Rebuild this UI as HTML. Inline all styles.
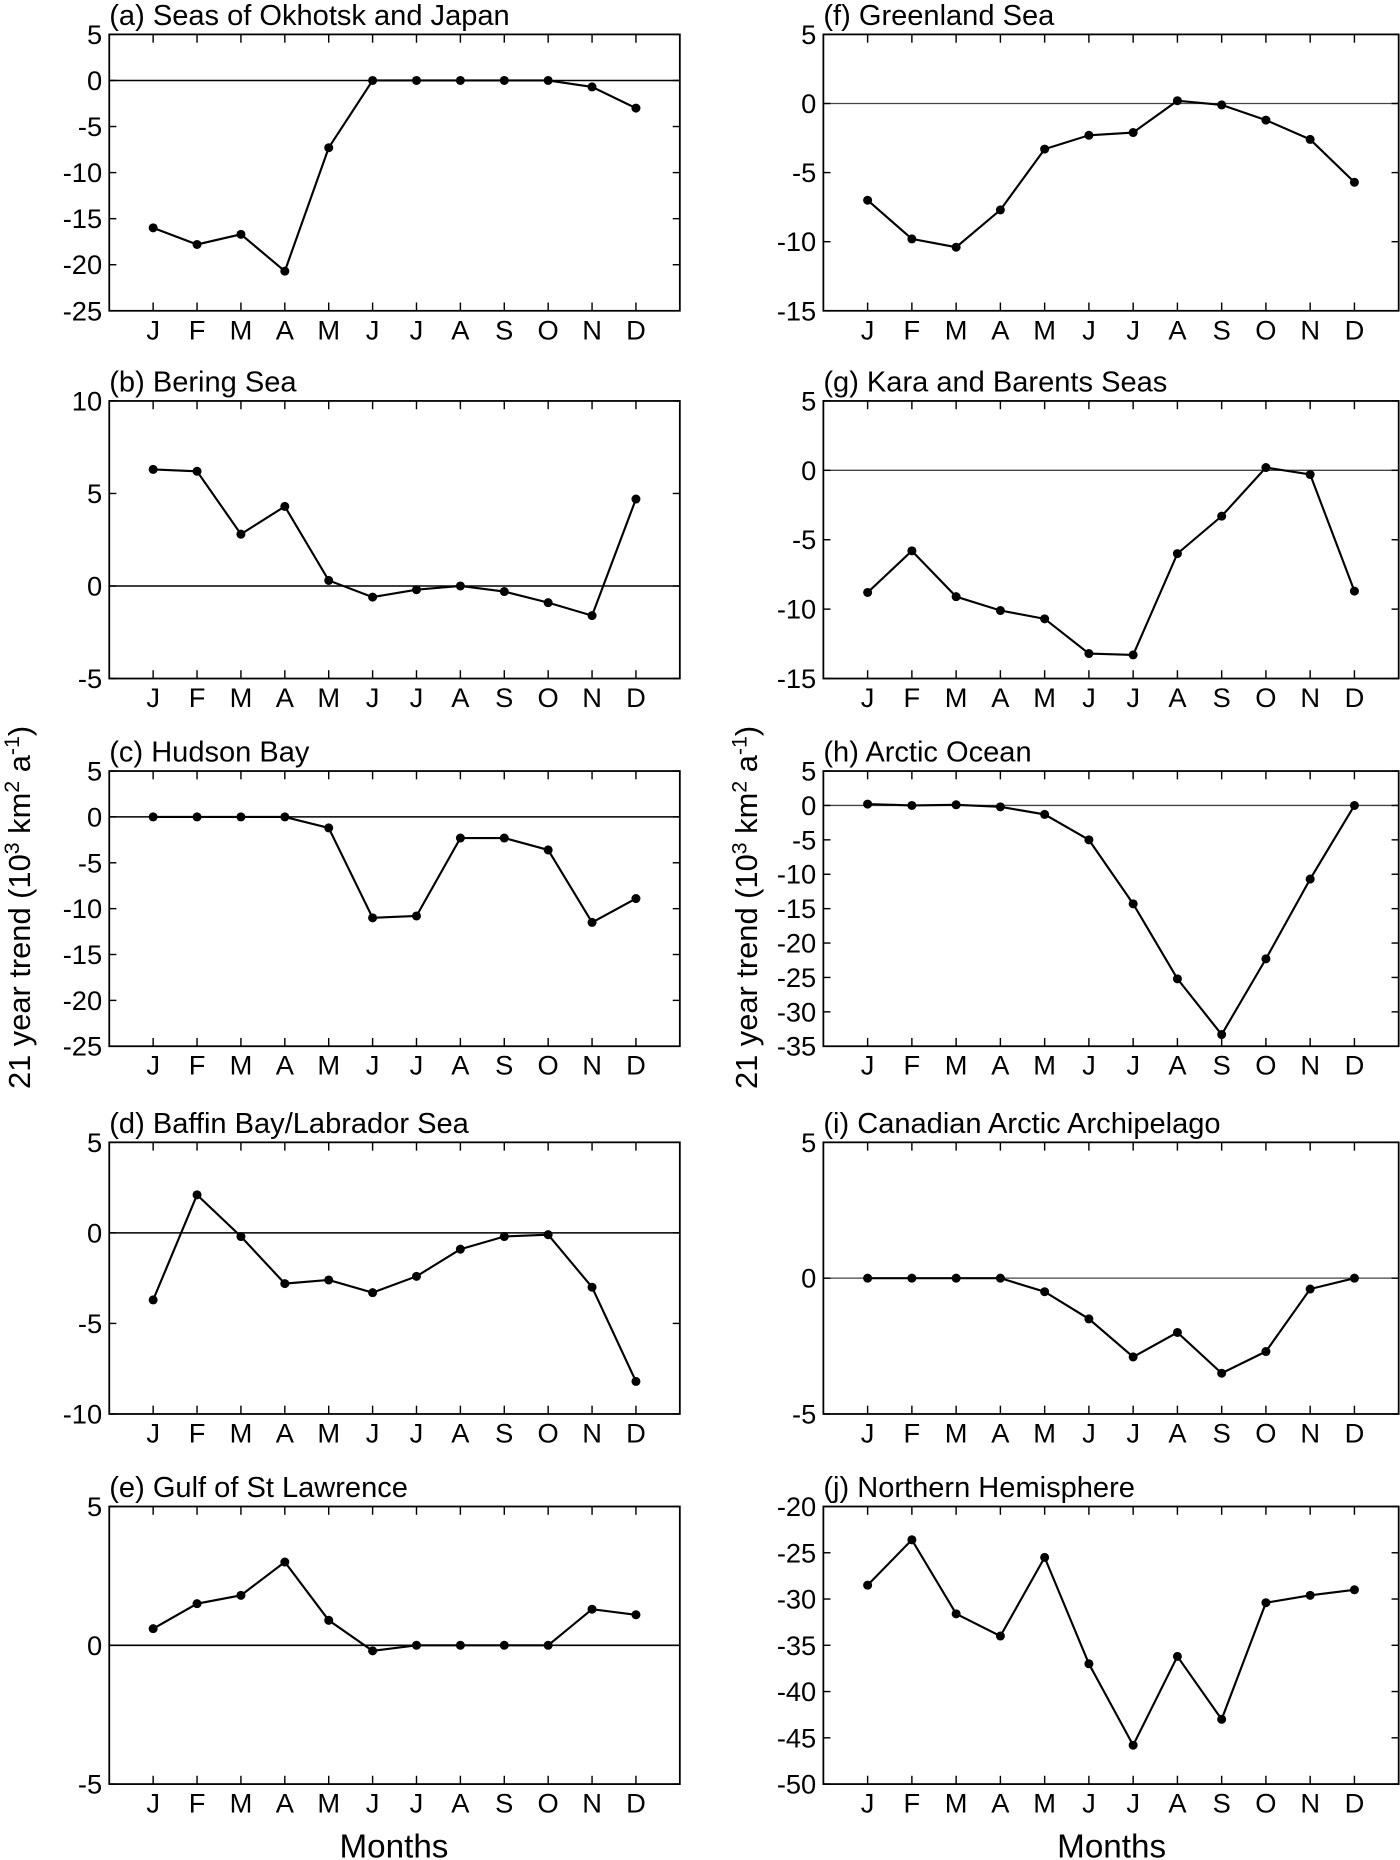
<!DOCTYPE html>
<html><head><meta charset="utf-8"><style>
html,body{margin:0;padding:0;background:#fff}
svg{display:block}
text{font-family:"Liberation Sans",Arial,sans-serif;fill:#000}
</style></head><body>
<svg id="fig" width="1400" height="1860" viewBox="0 0 1180 1568" xmlns="http://www.w3.org/2000/svg">
<text transform="translate(25,765) rotate(-90)" text-anchor="middle" font-size="26">21 year trend (10<tspan dy="-9" font-size="18">3</tspan><tspan dy="9"> km</tspan><tspan dy="-9" font-size="18">2</tspan><tspan dy="9"> a</tspan><tspan dy="-9" font-size="18">-1</tspan><tspan dy="9">)</tspan></text>
<text transform="translate(638,765) rotate(-90)" text-anchor="middle" font-size="26">21 year trend (10<tspan dy="-9" font-size="18">3</tspan><tspan dy="9"> km</tspan><tspan dy="-9" font-size="18">2</tspan><tspan dy="9"> a</tspan><tspan dy="-9" font-size="18">-1</tspan><tspan dy="9">)</tspan></text>
<text x="332" y="1566" text-anchor="middle" font-size="28">Months</text>
<text x="937" y="1566" text-anchor="middle" font-size="28">Months</text>
</svg>
<script>
const months = ["J","F","M","A","M","J","J","A","S","O","N","D"];
const titles = ["(a) Seas of Okhotsk and Japan","(b) Bering Sea","(c) Hudson Bay","(d) Baffin Bay/Labrador Sea","(e) Gulf of St Lawrence","(f) Greenland Sea","(g) Kara and Barents Seas","(h) Arctic Ocean","(i) Canadian Arctic Archipelago","(j) Northern Hemisphere"];
const seriesA = [-16,-17.8,-16.7,-20.7,-7.3,0,0,0,0,0,-0.7,-3];
const seriesB = [6.3,6.2,2.8,4.3,0.3,-0.6,-0.2,0,-0.3,-0.9,-1.6,4.7];
const seriesC = [0,0,0,0,-1.2,-11,-10.8,-2.3,-2.3,-3.6,-11.5,-8.9];
const seriesD = [-3.7,2.1,-0.2,-2.8,-2.6,-3.3,-2.4,-0.9,-0.2,-0.1,-3,-8.2];
const seriesE = [0.6,1.5,1.8,3,0.9,-0.2,0,0,0,0,1.3,1.1];
const seriesF = [-7,-9.8,-10.4,-7.7,-3.3,-2.3,-2.1,0.2,-0.1,-1.2,-2.6,-5.7];
const seriesG = [-8.8,-5.8,-9.1,-10.1,-10.7,-13.2,-13.3,-6,-3.3,0.2,-0.3,-8.7];
const seriesH = [0.2,0,0.1,-0.2,-1.3,-5,-14.3,-25.2,-33.3,-22.3,-10.7,0];
const seriesI = [0,0,0,0,-0.5,-1.5,-2.9,-2,-3.5,-2.7,-0.4,0];
const seriesJ = [-28.5,-23.6,-31.6,-34,-25.5,-37,-45.8,-36.2,-43,-30.4,-29.6,-29];
const yTicksA = [5,0,-5,-10,-15,-20,-25];
const yTicksB = [10,5,0,-5];
const yTicksC = [5,0,-5,-10,-15,-20,-25];
const yTicksD = [5,0,-5,-10];
const yTicksE = [5,0,-5];
const yTicksF = [5,0,-5,-10,-15];
const yTicksG = [5,0,-5,-10,-15];
const yTicksH = [5,0,-5,-10,-15,-20,-25,-30,-35];
const yTicksI = [5,0,-5];
const yTicksJ = [-20,-25,-30,-35,-40,-45,-50];

const NS="http://www.w3.org/2000/svg";
const svg=document.getElementById('fig');
function mk(tag,attrs,parent){const e=document.createElementNS(NS,tag);for(const k in attrs)e.setAttribute(k,attrs[k]);(parent||svg).appendChild(e);return e;}
const rowsTop=[29,338,650,963,1270], rowsBot=[262,572,882,1192,1504];
const cols=[[92,573],[694,1179]];
const allSeries=[seriesA,seriesB,seriesC,seriesD,seriesE,seriesF,seriesG,seriesH,seriesI,seriesJ];
const allTicks=[yTicksA,yTicksB,yTicksC,yTicksD,yTicksE,yTicksF,yTicksG,yTicksH,yTicksI,yTicksJ];
const zeroLine=[true,true,true,true,true,true,true,true,true,false];
for(let p=0;p<10;p++){
  const c=Math.floor(p/5), r=p%5;
  const L=cols[c][0], R=cols[c][1], T=rowsTop[r], B=rowsBot[r];
  const ticks=allTicks[p], data=allSeries[p];
  const ymax=Math.max(...ticks), ymin=Math.min(...ticks);
  const xs=i=>L+(i+1)*(R-L)/13;
  const ys=v=>T+(ymax-v)*(B-T)/(ymax-ymin);
  const g=mk('g',{});
  
  
  const t=mk('text',{x:L,y:T-8,'font-size':24.5},g);
  
  
  t.textContent=titles[p];
  if(zeroLine[p]){const z=mk('line',{x1:L,x2:R,y1:ys(0),y2:ys(0),stroke:c?'#444':'#000','stroke-width':c?1.1:1.3},g);
    
    }
  ticks.forEach(v=>{
    const y=ys(v);
    mk('line',{x1:L,x2:L+6,y1:y,y2:y,stroke:'#000','stroke-width':1.2},g);
    mk('line',{x1:R,x2:R-6,y1:y,y2:y,stroke:'#000','stroke-width':1.2},g);
    const tl=mk('text',{x:L-6,y:y+8,'text-anchor':'end','font-size':23},g);
    
    
    tl.textContent=v;
  });
  months.forEach((m,i)=>{
    const x=xs(i);
    mk('line',{x1:x,x2:x,y1:B,y2:B-7,stroke:'#000','stroke-width':1.2},g);
    mk('line',{x1:x,x2:x,y1:T,y2:T+7,stroke:'#000','stroke-width':1.2},g);
    const ml=mk('text',{x:x,y:B+24,'text-anchor':'middle','font-size':23},g);
    
    
    ml.textContent=m;
  });
  const fr=mk('rect',{x:L,y:T,width:R-L,height:B-T,fill:'none',stroke:'#000','stroke-width':1.5},g);
  
  
  const pl=mk('polyline',{points:data.map((v,i)=>xs(i)+','+ys(v)).join(' '),fill:'none',stroke:'#000','stroke-width':1.8},g);
  
  
  data.forEach((v,i)=>{
    const d=mk('circle',{cx:xs(i),cy:ys(v),r:3.8,fill:'#000'},g);
    
    
  });
}
</script>
</body></html>
